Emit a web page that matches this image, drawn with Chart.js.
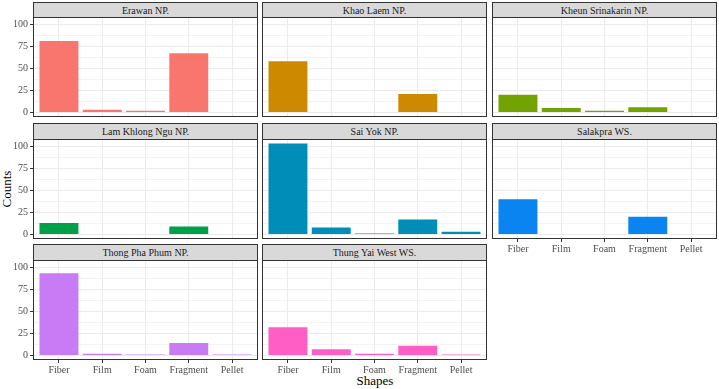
<!DOCTYPE html>
<html><head><meta charset="utf-8">
<script src="https://cdn.jsdelivr.net/npm/chart.js@4/dist/chart.umd.min.js"></script>
<style>
body{margin:0;width:719px;height:389px;background:#fff;position:relative;overflow:hidden;font-family:"Liberation Serif","Times New Roman",serif}
.strip{position:absolute;box-sizing:border-box;background:#D9D9D9;border:1px solid #333;color:#1A1A1A;font-size:10px;display:flex;align-items:center;justify-content:center;white-space:nowrap;font-family:"Liberation Serif",serif}
canvas{position:absolute}
.title{position:absolute;color:#000;font-size:13px;white-space:nowrap;font-family:"Liberation Serif",serif}
</style></head><body>
<div class="title" style="left:7px;top:189px;transform:translate(-50%,-50%) rotate(-90deg);">Counts</div>
<div class="title" style="left:375px;top:381px;transform:translate(-50%,-50%);">Shapes</div>
<script>
const categories = ['Fiber', 'Film', 'Foam', 'Fragment', 'Pellet'];
const siteNames = ['Erawan NP.', 'Khao Laem NP.', 'Kheun Srinakarin NP.', 'Lam Khlong Ngu NP.', 'Sai Yok NP.', 'Salakpra WS.', 'Thong Pha Phum NP.', 'Thung Yai West WS.'];
const erawan = [81, 3, 2, 67, 0];
const khaoLaem = [58, 0, 0, 21, 0];
const kheunSrinakarin = [20, 5, 2, 6, 0];
const lamKhlongNgu = [13, 0, 0, 9, 0];
const saiYok = [103, 8, 1, 17, 3];
const salakpra = [40, 0, 0, 20, 0];
const thongPhaPhum = [93, 2, 1, 14, 1];
const thungYaiWest = [32, 7, 2, 11, 1];
const yTickValues = [0, 25, 50, 75, 100];
const yMinorValues = [12.5, 37.5, 62.5, 87.5];
const siteColours = ['#F8766D', '#CD8A00', '#72A300', '#00A04A', '#008EB8', '#0A84F0', '#C77CF5', '#FF5FC5'];

const seriesList = [erawan, khaoLaem, kheunSrinakarin, lamKhlongNgu, saiYok, salakpra, thongPhaPhum, thungYaiWest];
const maxVal = Math.max(...seriesList.flat());
const yMin = -0.05 * maxVal, yMax = maxVal * 1.05;
const xMin = 0.4, xMax = categories.length + 0.6;

const colLeft = [33, 262, 492];
const colW = 225;
const stripTop = [2, 123, 244];
const panelTop = [17, 139, 260];
const panelH = 100;
const FONT = '"Liberation Serif", serif';

const borderPlugin = {
  id: 'panelBorder',
  afterDraw(chart) {
    const a = chart.chartArea, ctx = chart.ctx;
    ctx.save();
    ctx.strokeStyle = '#333333';
    ctx.lineWidth = 1;
    ctx.strokeRect(Math.round(a.left) + 0.5, Math.round(a.top) + 0.5, Math.round(a.right - a.left) - 1, Math.round(a.bottom - a.top) - 1);
    ctx.restore();
  }
};

seriesList.forEach((vals, i) => {
  const r = Math.floor(i / 3), c = i % 3;
  const showY = c === 0;
  const showX = r === 2 || (r === 1 && c === 2);
  const axisW = showY ? 33 : 0;
  const axisH = showX ? 22 : 0;

  const strip = document.createElement('div');
  strip.className = 'strip';
  strip.style.left = colLeft[c] + 'px';
  strip.style.top = stripTop[r] + 'px';
  strip.style.width = colW + 'px';
  strip.style.height = (panelTop[r] - stripTop[r] + 1) + 'px';
  strip.textContent = siteNames[i];
  document.body.appendChild(strip);

  const w = colW + axisW, h = panelH + axisH;
  const cv = document.createElement('canvas');
  cv.width = w; cv.height = h;
  cv.style.left = (colLeft[c] - axisW) + 'px';
  cv.style.top = panelTop[r] + 'px';
  cv.style.width = w + 'px'; cv.style.height = h + 'px';
  document.body.appendChild(cv);

  new Chart(cv, {
    type: 'bar',
    data: {
      datasets: [{
        data: vals.map((v, k) => ({ x: k + 1, y: v })),
        backgroundColor: siteColours[i],
        borderWidth: 0,
        barPercentage: 0.9,
        categoryPercentage: 1
      }]
    },
    options: {
      responsive: false, animation: false, devicePixelRatio: 1,
      layout: { padding: 0 },
      plugins: { legend: { display: false }, tooltip: { enabled: false } },
      scales: {
        x: {
          type: 'linear', min: xMin, max: xMax, bounds: 'data', offset: false,
          afterBuildTicks: s => { s.ticks = categories.map((_, k) => ({ value: k + 1 })); },
          ticks: { display: showX, autoSkip: false, maxRotation: 0, padding: 1,
            callback: v => categories[Math.round(v) - 1],
            font: { family: FONT, size: 10 }, color: '#4D4D4D' },
          grid: { offset: false, color: '#EBEBEB', lineWidth: 1, drawTicks: showX, tickLength: 3, tickColor: '#333333' },
          border: { display: false },
          afterFit: s => { s.height = axisH; s.paddingLeft = 0; s.paddingRight = 0; }
        },
        y: {
          type: 'linear', min: yMin, max: yMax, bounds: 'data',
          afterBuildTicks: s => { s.ticks = yTickValues.concat(yMinorValues).sort((a, b) => a - b).map(v => ({ value: v })); },
          ticks: { display: showY, autoSkip: false, padding: 2,
            callback: v => (yTickValues.includes(v) ? v : ''),
            font: { family: FONT, size: 10 }, color: '#4D4D4D' },
          grid: { offset: false, color: '#EBEBEB',
            lineWidth: ctx => (ctx.tick && yTickValues.includes(ctx.tick.value) ? 1 : 0.6),
            drawTicks: showY, tickLength: 3,
            tickColor: ctx => (ctx.tick && yTickValues.includes(ctx.tick.value) ? '#333333' : 'rgba(0,0,0,0)') },
          border: { display: false },
          afterFit: s => { s.width = axisW; s.paddingTop = 0; s.paddingBottom = 0; }
        }
      }
    },
    plugins: [borderPlugin]
  });
});
</script>
</body></html>
